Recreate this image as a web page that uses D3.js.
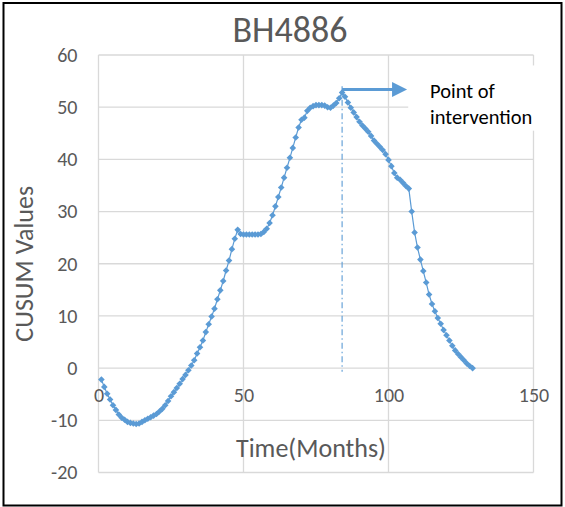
<!DOCTYPE html>
<html>
<head>
<meta charset="utf-8">
<script src="https://cdn.jsdelivr.net/npm/d3@7"></script>
<style>
    html, body { margin: 0; padding: 0; background: #fff; }
    #chart { width: 565px; height: 507px; }
    text { font-family: Calibri, Carlito, Lato, sans-serif; }
</style>
</head>
<body>
<div id="chart"></div>
<script>
// Chart data
const chartTitle = 'BH4886';
const xAxisTitle = 'Time(Months)';
const yAxisTitle = 'CUSUM Values';
const annotationLines = ['Point of', 'intervention'];

const months = d3.range(1, 130);   // month index 1..129
const cusumValues = [
    -2.2, -3.6, -4.9, -6.0, -7.1, -8.0, -8.9, -9.5, -9.9, -10.3,
    -10.5, -10.6, -10.7, -10.6, -10.3, -10.0, -9.7, -9.4, -9.1, -8.8,
    -8.3, -7.8, -7.1, -6.3, -5.4, -4.6, -3.8, -3.0, -2.1, -1.3,
    -0.4, 0.5, 1.5, 2.8, 4.0, 5.3, 6.9, 8.4, 9.9, 11.4,
    13.2, 14.9, 16.7, 18.7, 20.6, 22.8, 24.8, 26.5, 25.7, 25.6,
    25.6, 25.6, 25.6, 25.6, 25.6, 25.7, 26.1, 26.7, 27.8, 29.3,
    31.0, 32.8, 34.6, 36.5, 38.4, 40.3, 42.2, 44.2, 46.1, 47.6,
    48.0, 49.3, 49.9, 50.2, 50.4, 50.4, 50.4, 50.3, 50.0, 49.9,
    50.3, 50.8, 51.7, 52.8, 52.0, 50.9, 49.9, 49.0, 48.1, 47.2,
    46.5, 45.9, 45.3, 44.5, 43.6, 43.0, 42.4, 41.8, 41.0, 39.9,
    38.7, 37.4, 36.5, 36.1, 35.5, 34.9, 34.4, 30.0, 26.0, 23.1,
    20.8, 18.6, 16.4, 14.1, 12.3, 10.9, 9.6, 8.5, 7.3, 6.3,
    5.3, 4.3, 3.4, 2.7, 2.1, 1.5, 0.9, 0.4, 0.0
];

const xTicks = [0, 50, 100, 150];
const yTicks = [-20, -10, 0, 10, 20, 30, 40, 50, 60];

// intervention marker (data units)
const interventionMonth = 84;
const interventionTop = 54.0;
const interventionBottom = -0.7;
const arrowLevel = 53.4;
const arrowEnd = 106.4;

const blue = '#5b9bd5';
const grey = '#595959';

function drawChart() {
    const width = 565;
    const height = 507;
    const plot = {left: 98.5, right: 533.5, top: 55, bottom: 472.5};

    const svg = d3.select('#chart')
        .append('svg')
        .attr('width', width)
        .attr('height', height);

    // outer frame
    svg.append('rect')
        .attr('x', 3.5)
        .attr('y', 3)
        .attr('width', 558)
        .attr('height', 502.5)
        .attr('fill', '#fff')
        .attr('stroke', '#000')
        .attr('stroke-width', 2);

    const x = d3.scaleLinear().domain([0, 150]).range([plot.left, plot.right]);
    const y = d3.scaleLinear().domain([-20, 60]).range([plot.bottom, plot.top]);

    // gridlines
    const grid = svg.append('g').attr('stroke', '#d9d9d9').attr('stroke-width', 1.3);
    grid.selectAll('.hgrid')
        .data(yTicks)
        .enter()
        .append('line')
        .attr('x1', plot.left)
        .attr('x2', plot.right)
        .attr('y1', d => y(d))
        .attr('y2', d => y(d));
    grid.selectAll('.vgrid')
        .data(xTicks)
        .enter()
        .append('line')
        .attr('x1', d => x(d))
        .attr('x2', d => x(d))
        .attr('y1', plot.top)
        .attr('y2', plot.bottom);

    // y axis labels (plain hyphen for negatives, like Excel)
    const yAxis = d3.axisLeft(y)
        .tickValues(yTicks)
        .tickFormat(d => String(d))
        .tickSize(0)
        .tickPadding(21);
    const gy = svg.append('g')
        .attr('transform', `translate(${plot.left},0)`)
        .call(yAxis);
    gy.select('.domain').remove();
    gy.selectAll('text')
        .attr('fill', grey)
        .style('font-size', '20px');

    // x axis labels sit under the zero line
    const xAxis = d3.axisBottom(x)
        .tickValues(xTicks)
        .tickFormat(d => String(d))
        .tickSize(0)
        .tickPadding(20);
    const gx = svg.append('g')
        .attr('transform', `translate(0,${y(0)})`)
        .call(xAxis);
    gx.select('.domain').remove();
    gx.selectAll('text')
        .attr('fill', grey)
        .style('font-size', '20px');

    // series line
    const points = months.map((m, i) => ({month: m, value: cusumValues[i]}));
    const line = d3.line()
        .x(d => x(d.month))
        .y(d => y(d.value));
    svg.append('path')
        .datum(points)
        .attr('d', line)
        .attr('fill', 'none')
        .attr('stroke', blue)
        .attr('stroke-width', 1.2);

    // diamond markers
    const r = 3.3;
    svg.append('g')
        .selectAll('path')
        .data(points)
        .enter()
        .append('path')
        .attr('d', d => {
            const cx = x(d.month), cy = y(d.value);
            return `M${cx},${cy - r}L${cx + r},${cy}L${cx},${cy + r}L${cx - r},${cy}Z`;
        })
        .attr('fill', blue);

    // text box background covers gridlines behind the annotation
    svg.append('rect')
        .attr('x', x(106.8))
        .attr('y', y(58))
        .attr('width', 140)
        .attr('height', y(45.5) - y(58))
        .attr('fill', '#fff');

    // intervention line (dash-dot)
    svg.append('line')
        .attr('x1', x(interventionMonth))
        .attr('x2', x(interventionMonth))
        .attr('y1', y(interventionTop))
        .attr('y2', y(interventionBottom))
        .attr('stroke', blue)
        .attr('stroke-width', 1.1)
        .attr('stroke-dasharray', '6,3,1.5,3');

    // arrow
    const ay = y(arrowLevel);
    const tip = x(arrowEnd);
    svg.append('line')
        .attr('x1', x(interventionMonth))
        .attr('x2', tip - 14)
        .attr('y1', ay)
        .attr('y2', ay)
        .attr('stroke', blue)
        .attr('stroke-width', 3);
    svg.append('path')
        .attr('d', `M${tip - 15},${ay - 7.5}L${tip},${ay}L${tip - 15},${ay + 7.5}Z`)
        .attr('fill', blue);

    // annotation text
    svg.append('text')
        .attr('x', 430)
        .attr('y', 98)
        .attr('fill', '#000')
        .style('font-size', '20.5px')
        .selectAll('tspan')
        .data(annotationLines)
        .enter()
        .append('tspan')
        .attr('x', 430)
        .attr('dy', (d, i) => i === 0 ? 0 : 25.5)
        .text(d => d);

    // titles
    svg.append('text')
        .attr('x', 290)
        .attr('y', 41.5)
        .attr('text-anchor', 'middle')
        .attr('fill', grey)
        .style('font-size', '36px')
        .text(chartTitle);

    svg.append('text')
        .attr('x', 311)
        .attr('y', 457)
        .attr('text-anchor', 'middle')
        .attr('fill', grey)
        .style('font-size', '26px')
        .text(xAxisTitle);

    svg.append('text')
        .attr('transform', `translate(33,${(plot.top + plot.bottom) / 2}) rotate(-90)`)
        .attr('text-anchor', 'middle')
        .attr('fill', grey)
        .style('font-size', '26px')
        .text(yAxisTitle);
}

document.addEventListener('DOMContentLoaded', drawChart);
</script>
</body>
</html>
